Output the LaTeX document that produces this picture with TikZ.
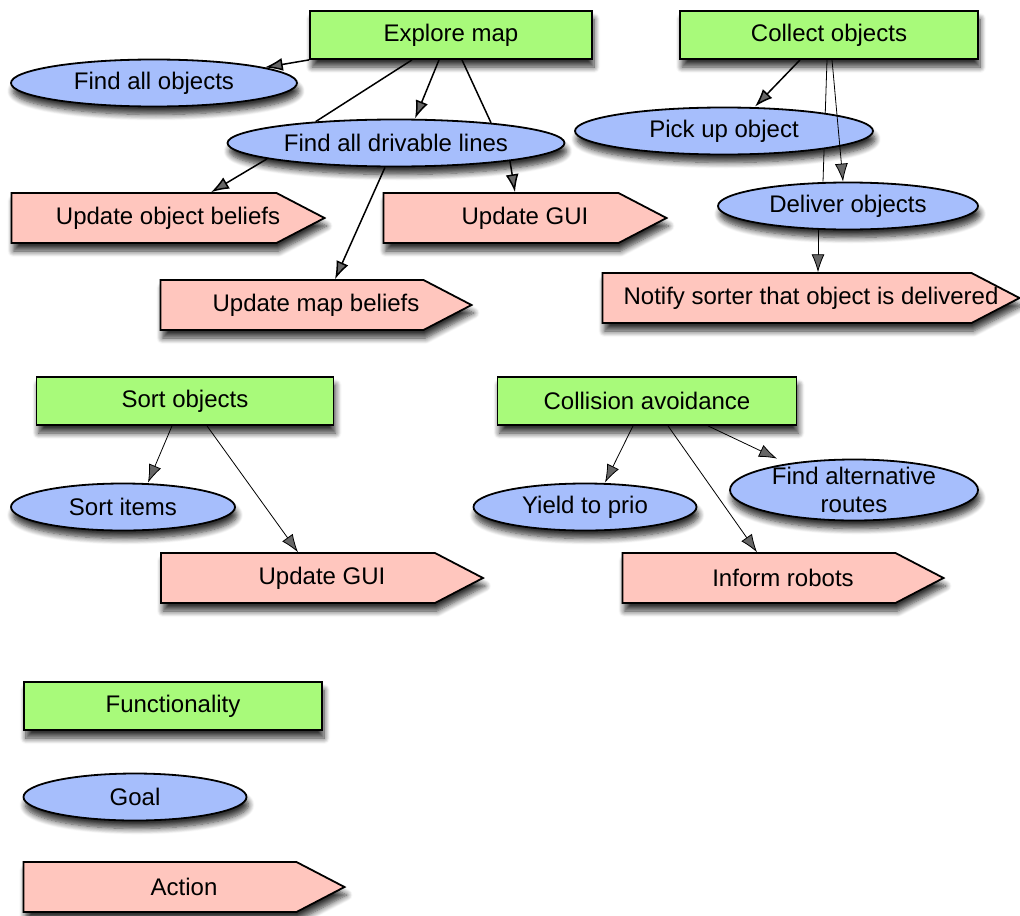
\documentclass[tikz,border=0pt]{standalone}
\usepackage{fontspec}
\setmainfont{Liberation Sans}
\usetikzlibrary{shapes.geometric,arrows.meta,calc,shadows.blur}
\pgfdeclarelayer{bg}
\pgfsetlayers{bg,main}
\definecolor{funcgreen}{RGB}{168,250,122}
\definecolor{goalblue}{RGB}{166,190,252}
\definecolor{actpink}{RGB}{255,198,190}
\tikzset{
  dropshade/.style={blur shadow={shadow xshift=1pt,shadow yshift=-4pt,shadow blur radius=3pt,shadow blur steps=8,shadow opacity=80}},
  func/.style={draw,line width=0.9pt,fill=funcgreen,dropshade,minimum width=#1,minimum height=24pt,inner sep=0pt},
  goal/.style={ellipse,draw,line width=0.9pt,fill=goalblue,dropshade,minimum width=#1,minimum height=23.5pt,inner sep=0pt},
  actshape/.style={draw,line width=0.9pt,fill=actpink,dropshade},
  acttext/.style={inner sep=0pt,minimum height=25pt}
}
% action: name, x, y, width (px), text
\newcommand{\action}[5]{%
  \filldraw[actshape] ({#2-#4/2},{#3-25}) -- ({#2+#4/2-48},{#3-25}) -- ({#2+#4/2},#3)
    -- ({#2+#4/2-48},{#3+25}) -- ({#2-#4/2},{#3+25}) -- cycle;%
  \node[acttext,minimum width=#4*0.5pt] (#1) at (#2,#3) {#5};%
}

\begin{document}
\begin{tikzpicture}[x=0.5pt,y=-0.5pt,font=\fontsize{12}{14.4}\selectfont,line width=0.75pt,>={Latex[length=9pt,width=6.5pt]}]
  \useasboundingbox (0,0) rectangle (1020,915);
  \node[func=141pt] (explore) at (451,35) {Explore map};
  \node[func=149pt] (collect) at (829,35) {Collect objects};
  \node[goal=143pt] (findobj) at (154,83) {Find all objects};
  \node[goal=168.5pt] (drivable) at (396,143) {Find all drivable lines};
  \node[goal=149pt] (pickup) at (724,131) {Pick up object};
  \node[goal=130pt] (deliver) at (848,206) {Deliver objects};
  \action{objbel}{168}{218}{313}{Update object beliefs}
  \action{gui}{525}{218}{283}{Update GUI}
  \action{mapbel}{316}{305}{311}{Update map beliefs}
  \action{notify}{811}{298}{417}{Notify sorter that object is delivered}

  \node[func=148.5pt] (sortobj) at (185,401) {Sort objects};
  \node[func=149.5pt] (collision) at (647,401) {Collision avoidance};
  \node[goal=112pt] (sortitems) at (123,507) {Sort items};
  \node[goal=111.5pt] (yield) at (585,507) {Yield to prio};
  \node[goal=124pt,minimum height=30.5pt,inner ysep=-1pt,align=center] (findalt) at (854,490) {Find alternative\\routes};
  \action{sortgui}{322}{578}{322}{Update GUI}
  \action{inform}{783}{578}{321}{Inform robots}

  \node[func=149pt] (legfunc) at (173,706) {Functionality};
  \node[goal=111.5pt] (leggoal) at (135,797) {Goal};
  \action{legact}{184}{887}{321}{Action}

  \draw[->] (explore.south west) -- (findobj.8);
  \draw[->] ($(explore.south)+(-12,0)$) -- ($(drivable.north)+(19,0)$);
  \draw ($(explore.south)+(-39,0)$) -- (drivable.165);
  \draw ($(explore.south)+(11,0)$) -- (drivable.12);
  \draw[->] (drivable.187) -- ($(objbel.north)+(43,0)$);
  \draw[->] (drivable.-9) -- ($(gui.north)+(-10,0)$);
  \draw[->] ($(drivable.south)+(-11,0)$) -- ($(mapbel.north)+(19,0)$);
  \draw[->] ($(collect.south)+(-29,0)$) -- ($(pickup.north)+(31,0)$);
  \begin{pgfonlayer}{bg}
    \draw ($(collect.south)+(-2,0)$) -- ($(deliver.north)+(-25,0)$);
  \end{pgfonlayer}
  \draw[->] ($(collect.south)+(3,0)$) -- ($(deliver.north)+(-5,0)$);
  \draw[->] ($(deliver.south)+(-30,0)$) -- ($(notify.north)+(7,0)$);

  \draw[->] ($(sortobj.south)+(-13,0)$) -- ($(sortitems.north)+(25,0)$);
  \draw[->] ($(sortobj.south)+(22,0)$) -- ($(sortgui.north)+(-24,0)$);
  \draw[->] ($(collision.south)+(-14,0)$) -- ($(yield.north)+(20,0)$);
  \draw[->] ($(collision.south)+(21,0)$) -- ($(inform.north)+(-26,0)$);
  \draw[->] ($(collision.south)+(61,0)$) -- ($(findalt.north)+(-77,0)$);
\end{tikzpicture}
\end{document}
